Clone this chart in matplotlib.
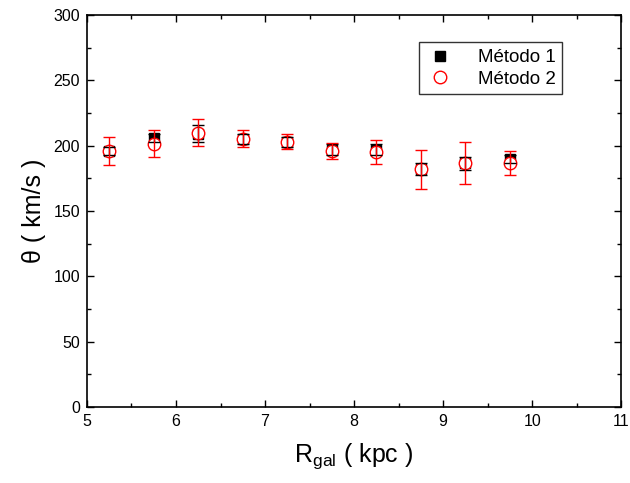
import matplotlib.pyplot as plt

plt.rcParams['font.family'] = ['Liberation Sans', 'DejaVu Sans']

# Dados
r_gal = [5.25, 5.75, 6.25, 6.75, 7.25, 7.75, 8.25, 8.75, 9.25, 9.75]
theta_m1 = [196, 206, 209, 205, 203, 197, 197, 182, 186.5, 190]
err_m1 = [3, 3, 6.5, 4, 4, 4, 4, 4.5, 5, 3]
theta_m2 = [196, 201.5, 210, 205.4, 203, 196, 195.4, 182, 186.5, 186.5]
err_m2 = [10.5, 10.3, 10.5, 6.5, 5.8, 6, 9.1, 15, 16, 9.2]

fig = plt.figure(figsize=(6.3, 4.83), dpi=100)
ax = fig.add_axes([0.138, 0.157, 0.848, 0.812])

# Método 1: quadrados pretos
ax.plot(r_gal, theta_m1, 's', color='black', markersize=7, zorder=2, label='Método 1')
# Método 2: círculos vermelhos abertos
ax.plot(r_gal, theta_m2, 'o', markerfacecolor='white', markeredgecolor='red',
        markersize=9, markeredgewidth=1.0, zorder=3, label='Método 2')

ax.errorbar(r_gal, theta_m1, yerr=err_m1, fmt='none', ecolor='black',
            elinewidth=1.0, capsize=4, capthick=1.0, zorder=4)
ax.errorbar(r_gal, theta_m2, yerr=err_m2, fmt='none', ecolor='red',
            elinewidth=1.0, capsize=4, capthick=1.0, zorder=5)

ax.set_xlim(5, 11)
ax.set_ylim(0, 300)
ax.set_xticks([5, 6, 7, 8, 9, 10, 11])
ax.set_yticks([0, 50, 100, 150, 200, 250, 300])
ax.set_xticks([5.5, 6.5, 7.5, 8.5, 9.5, 10.5], minor=True)
ax.set_yticks([25, 75, 125, 175, 225, 275], minor=True)
ax.tick_params(which='both', direction='in', top=True, right=True, labelsize=11.5, width=1)
ax.tick_params(which='major', length=5, pad=5)
ax.tick_params(which='minor', length=3)
for s in ax.spines.values():
    s.set_linewidth(1.2)

ax.set_xlabel(r'R$_{\mathregular{gal}}$ ( kpc )', fontsize=18, labelpad=9)
ax.set_ylabel('θ ( km/s )', fontsize=18, labelpad=5)

leg = ax.legend(loc='upper right', bbox_to_anchor=(0.89, 0.93), fontsize=13.5,
                frameon=True, fancybox=False, edgecolor='black', handletextpad=1.3,
                borderpad=0.35, labelspacing=0.25, handlelength=1.5, borderaxespad=0)
leg.get_frame().set_linewidth(1.0)

fig.savefig('out.png', dpi=100)
